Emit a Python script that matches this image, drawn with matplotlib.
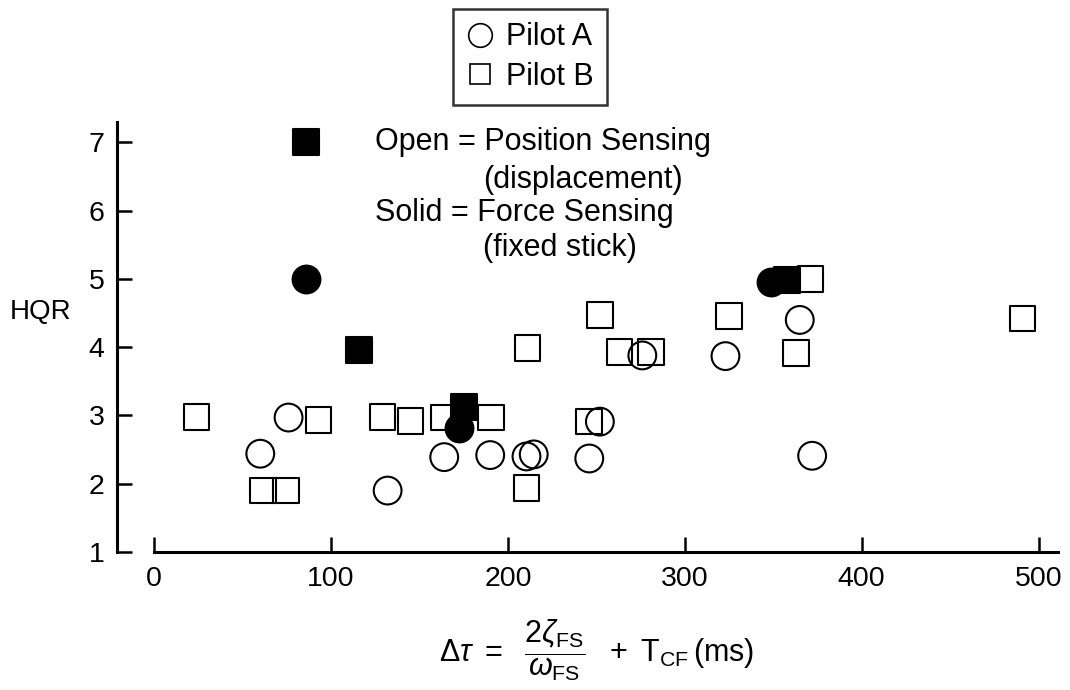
import matplotlib
matplotlib.use('Agg')
import matplotlib.pyplot as plt
from matplotlib.lines import Line2D

'''data read off the figure'''

# Pilot A (circles)
a_open_dt = [76, 60, 164, 190, 132, 210.5, 214.6, 246, 252, 276, 323, 365, 372]
a_open_hqr = [2.97, 2.44, 2.39, 2.42, 1.9, 2.40, 2.43, 2.37, 2.91, 3.88, 3.87, 4.4, 2.41]
a_solid_dt = [86, 172.5, 349]
a_solid_hqr = [5.0, 2.81, 4.96]

# Pilot B (squares)
b_open_dt = [24, 93, 129, 145, 164, 190.5, 61.5, 74.7, 252, 325, 491,
             211, 263, 281, 363, 246, 210.5, 371]
b_open_hqr = [2.98, 2.93, 2.98, 2.92, 2.97, 2.97, 1.9, 1.9, 4.47, 4.46, 4.42,
              3.99, 3.93, 3.93, 3.92, 2.91, 1.94, 5.0]
b_solid_dt = [86, 115.6, 175, 358]
b_solid_hqr = [7.0, 3.96, 3.13, 4.98]

x_ticks = [0, 100, 200, 300, 400, 500]
y_ticks = [1, 2, 3, 4, 5, 6, 7]

plt.rcParams['font.family'] = ['Liberation Sans', 'DejaVu Sans']
plt.rcParams['mathtext.fontset'] = 'custom'
plt.rcParams['mathtext.rm'] = 'Liberation Sans'
plt.rcParams['mathtext.it'] = 'Liberation Sans:italic'
plt.rcParams['mathtext.sf'] = 'Liberation Sans'

W, H = 1070, 690
fig = plt.figure(figsize=(W / 100, H / 100), dpi=100)
ax = fig.add_axes([117 / W, 1 - 552 / H, (1058 - 117) / W, (552 - 122) / H])

sq = 340
ci = 400
lw = 1.5
ax.scatter(a_open_dt, a_open_hqr, s=ci, marker='o', facecolors='none',
           edgecolors='black', linewidths=lw, clip_on=False, zorder=3)
ax.scatter(b_open_dt, b_open_hqr, s=sq, marker='s', facecolors='none',
           edgecolors='black', linewidths=lw, clip_on=False, zorder=3)
ax.scatter(a_solid_dt, a_solid_hqr, s=ci, marker='o', color='black',
           linewidths=lw, clip_on=False, zorder=3)
ax.scatter(b_solid_dt, b_solid_hqr, s=sq, marker='s', color='black',
           linewidths=lw, clip_on=False, zorder=3)

ax.set_xlim(-21, 511)
ax.set_ylim(1, 7.3)
ax.set_xticks(x_ticks)
ax.set_yticks(y_ticks)

for side in ['top', 'right']:
    ax.spines[side].set_visible(False)
ax.spines['left'].set_bounds(1, 7.3)
ax.spines['bottom'].set_bounds(0, 511)
for side in ['left', 'bottom']:
    ax.spines[side].set_linewidth(2.2)

ax.tick_params(axis='both', direction='in', length=11, width=1.8,
               labelsize=20.5)
ax.tick_params(axis='x', pad=10)
ax.tick_params(axis='y', pad=9)

'''annotations'''

fs = 22
ax.text(125, 7.0, 'Open = Position Sensing', fontsize=fs, va='center')
ax.text(186, 6.45, '(displacement)', fontsize=fs, va='center')
ax.text(125, 5.96, 'Solid = Force Sensing', fontsize=fs, va='center')
ax.text(186, 5.45, '(fixed stick)', fontsize=fs, va='center')

fig.text(10 / W, 1 - 312 / H, 'HQR', fontsize=20, va='center', ha='left')

fig.text(597 / W, 1 - 650 / H,
         r'$\Delta\tau\ =\ \ \dfrac{2\zeta_{\mathrm{FS}}}{\omega_{\mathrm{FS}}}\ \ +\ \mathrm{T}_{\mathrm{CF}}\,$(ms)',
         fontsize=22, ha='center', va='center')

handles = [
    Line2D([], [], marker='o', linestyle='none', markersize=17,
           markerfacecolor='none', markeredgecolor='black', markeredgewidth=1.2),
    Line2D([], [], marker='s', linestyle='none', markersize=15,
           markerfacecolor='none', markeredgecolor='black', markeredgewidth=1.2),
]
leg = fig.legend(handles, ['Pilot A', 'Pilot B'], loc='center',
                 bbox_to_anchor=(530 / W, 1 - 57 / H), fontsize=fs,
                 frameon=True, fancybox=False, handlelength=0.9,
                 handletextpad=0.4, borderpad=0.45, labelspacing=0.3,
                 borderaxespad=0)
leg.get_frame().set_edgecolor('black')
leg.get_frame().set_linewidth(1.8)

fig.savefig('out.png', dpi=100)
